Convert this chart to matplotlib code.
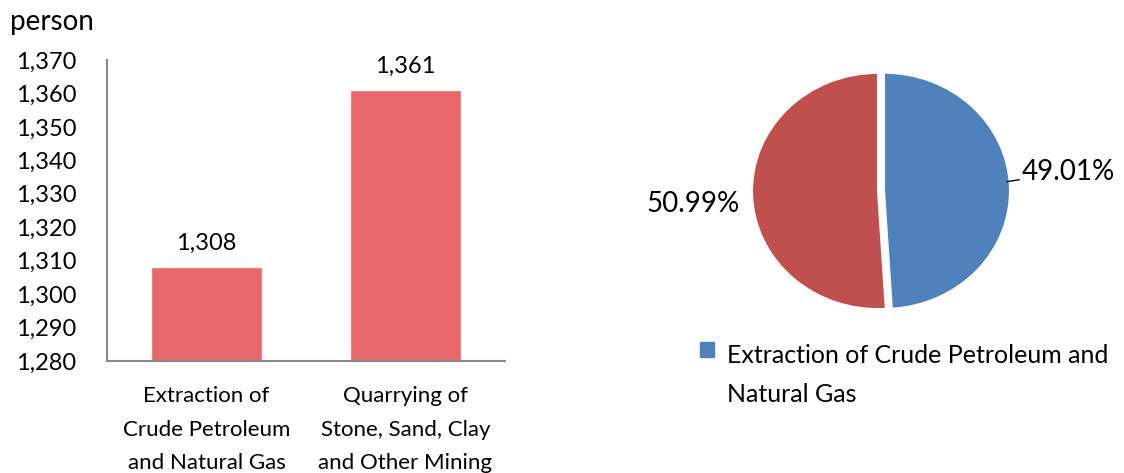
import matplotlib.pyplot as plt

plt.rcParams['font.family'] = ['Lato', 'DejaVu Sans']

categories = ['Extraction of\nCrude Petroleum\nand Natural Gas',
              'Quarrying of\nStone, Sand, Clay\nand Other Mining']
persons = [1308, 1361]
yticks = [1280, 1290, 1300, 1310, 1320, 1330, 1340, 1350, 1360, 1370]
legend_label = 'Extraction of Crude Petroleum and\nNatural Gas'

fig = plt.figure(figsize=(11.24, 4.73), dpi=100)

# bar chart
ax = fig.add_axes([0.0952, 0.2368, 0.354, 0.6364])
x = range(len(persons))
ax.bar(x, persons, width=0.56, color='#E8696B', edgecolor='#f4f4f4', linewidth=1, zorder=2)
ax.set_xlim(-0.5, 1.5)
ax.set_ylim(1280, 1370)
ax.set_yticks(yticks)
ax.set_yticklabels([f'{v:,}' for v in yticks], fontsize=17)
ax.set_xticks(list(x))
ax.set_xticklabels(categories, fontsize=16, linespacing=1.85)
ax.tick_params(axis='y', length=0, pad=22)
ax.tick_params(axis='x', length=0, pad=18)
for s in ['top', 'right']:
    ax.spines[s].set_visible(False)
for s in ['left', 'bottom']:
    ax.spines[s].set_color('#888888')
    ax.spines[s].set_linewidth(1.5)
for i, v in enumerate(persons):
    ax.text(i, v + 4, f'{v:,}', ha='center', va='bottom', fontsize=17)
fig.text(0.009, 0.953, 'person', fontsize=20, va='center')

# pie chart
pax = fig.add_axes([(878 - 200) / 1124, 1 - (191 + 187.5) / 473, 400 / 1124, 375 / 473])
total = sum(persons)
wedges, _ = pax.pie(persons, colors=['#4F81BD', '#C0504D'], startangle=90,
                    counterclock=False, radius=0.63, explode=[0.03, 0],
                    wedgeprops=dict(edgecolor='white', linewidth=1.5))
pax.set_aspect('auto')
pax.set_xlim(-1, 1)
pax.set_ylim(-1, 1)
pax.axis('off')
pct = [v / total * 100 for v in persons]
pax.annotate(f'{pct[0]:.2f}%', xy=(0.645, 0.05), xytext=(0.72, 0.10),
             fontsize=20, va='center', ha='left',
             arrowprops=dict(arrowstyle='-', color='black', lw=1, shrinkA=0, shrinkB=0))
pax.text(-0.69, -0.07, f'{pct[1]:.2f}%', fontsize=20, va='center', ha='right')

handle = plt.Rectangle((0, 0), 1, 1, color='#4F81BD')
leg = fig.legend([handle], [legend_label], loc='upper left', bbox_to_anchor=(0.603, 0.32),
                 frameon=False, fontsize=18, handlelength=0.55, handleheight=0.55,
                 handletextpad=0.5, labelspacing=0)
for t in leg.get_texts():
    t.set_linespacing(1.85)
# put the square next to the first line, as in the original
h = leg.legend_handles[0]
h.set_y(h.get_y() + 19)

fig.savefig('out.png', dpi=100)
